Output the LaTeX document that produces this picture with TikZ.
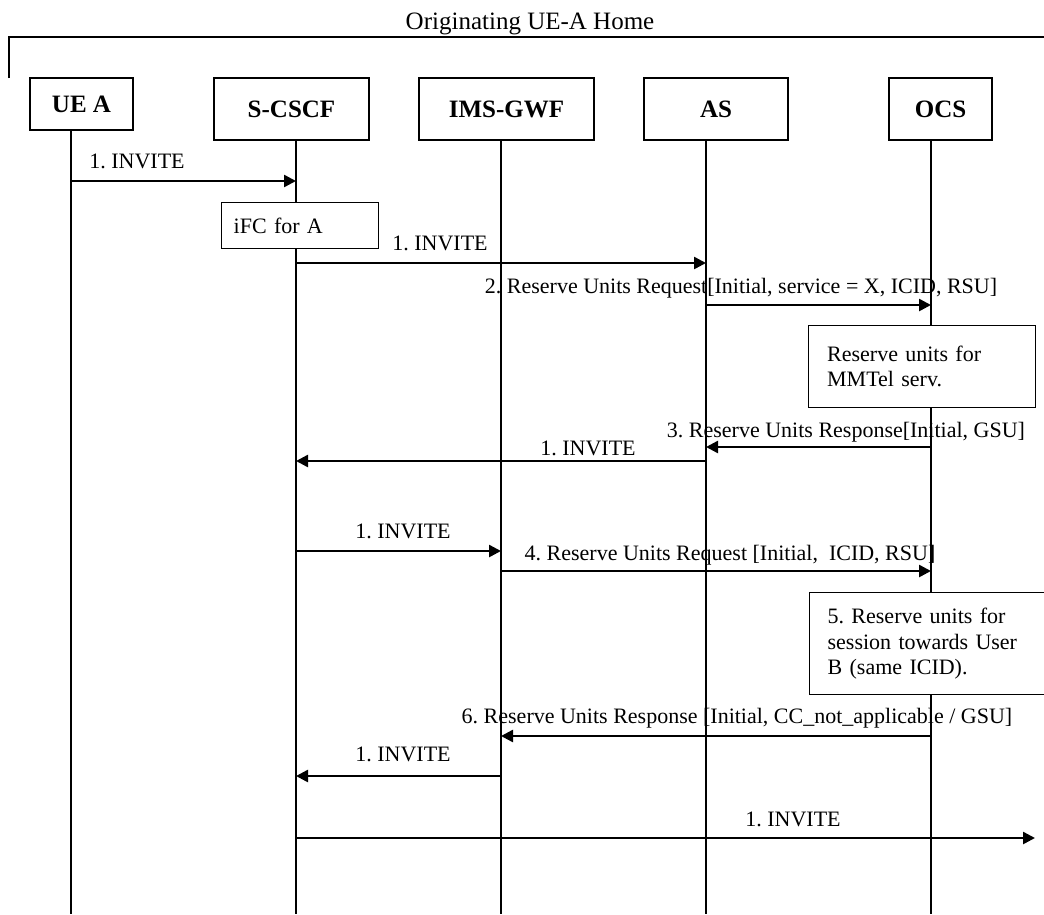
\documentclass[tikz,border=0pt]{standalone}
\usepackage{fontspec}
\setmainfont{Liberation Serif}
\frenchspacing
\usetikzlibrary{arrows.meta}
\tikzset{
  entity/.style={draw, fill=white, line width=1.3pt, inner sep=0pt, font=\fontsize{25}{28}\selectfont\bfseries},
  life/.style={line width=1.1pt},
  msg/.style={line width=2.5pt, -{Triangle[length=12pt,width=12pt]}},
  lbl/.style={anchor=base, inner sep=0pt, font=\fontsize{22}{25}\selectfont},
  note/.style={draw, fill=white, line width=1.3pt, anchor=north west, align=left, inner xsep=0pt, inner ysep=0pt, font=\fontsize{22}{25.5}\selectfont},
}
\begin{document}
\begin{tikzpicture}[x=1pt, y=-1pt]
\useasboundingbox (0,0) rectangle (1044,914);
% Home network frame and title
\draw[line width=1.3pt] (9,78) -- (9,37) -- (1044,37);
\node[lbl, font=\fontsize{25}{28}\selectfont] (title) at (530,29) {Originating UE-A Home};
% Entities with their lifelines
\foreach \nm/\lab/\xl/\xr/\yb/\lx in {ue/UE A/30/133/130/71, scscf/S-CSCF/214/369/140/296,
    gwf/IMS-GWF/419/594/140/501, as/AS/644/788/140/706, ocs/OCS/889/992/140/931} {
  \node[entity, minimum width={\xr pt-\xl pt}, minimum height={\yb pt-78pt}] (\nm) at ({(\xl+\xr)/2},{(78+\yb)/2}) {\lab};
  \coordinate (\nm-top) at (\lx,\yb);
  \coordinate (\nm-bot) at (\lx,914);
  \draw[life] (\nm-top) -- (\nm-bot);
}
% 1. INVITE from UE A
\draw[msg] (ue-top |- 0,181) -- (scscf-top |- 0,181);
\node[lbl] (m1) at (137,168) {1. INVITE};
% iFC evaluation
\node[note, minimum width=157pt, minimum height=46pt, text width=133pt] (ifc) at (221,202) {iFC for A};
\draw[msg] (scscf-top |- 0,263) -- (as-top |- 0,263);
\node[lbl] (m1b) at (440,250) {1. INVITE};
% Reserve units for the service
\draw[msg] (as-top |- 0,305) -- (ocs-top |- 0,305);
\node[lbl] (m2) at (741,293) {2. Reserve Units Request[Initial, service = X, ICID, RSU]};
\node[note, minimum width=227pt, minimum height=82pt, text width=190pt] (res1) at (808,325) {Reserve units for\\MMTel serv.};
\draw[msg] (ocs-top |- 0,447) -- (as-top |- 0,447);
\node[lbl] (m3) at (846,437) {3. Reserve Units Response[Initial, GSU]};
\node[lbl] (m1c) at (588,455) {1. INVITE};
\draw[msg] (as-top |- 0,461) -- (scscf-top |- 0,461);
% Session reservation via IMS-GWF
\draw[msg] (scscf-top |- 0,551) -- (gwf-top |- 0,551);
\node[lbl] (m1d) at (403,538) {1. INVITE};
\draw[msg] (gwf-top |- 0,571) -- (ocs-top |- 0,571);
\node[lbl] (m4) at (730,560) {4. Reserve Units Request [Initial,\ \ ICID, RSU]};
\node[note, minimum width=235pt, minimum height=102pt, text width=199pt] (res2) at (809,592) {5. Reserve units for\\session towards User\\B (same ICID).};
\draw[msg] (ocs-top |- 0,736) -- (gwf-top |- 0,736);
\node[lbl] (m6) at (737,723) {6. Reserve Units Response [Initial, CC\_not\_applicable / GSU]};
\draw[msg] (gwf-top |- 0,776) -- (scscf-top |- 0,776);
\node[lbl] (m1e) at (403,761) {1. INVITE};
% INVITE onwards
\coordinate (out) at (1035,838);
\draw[msg] (scscf-top |- out) -- (out);
\node[lbl] (m1f) at (793,826) {1. INVITE};
\end{tikzpicture}
\end{document}
